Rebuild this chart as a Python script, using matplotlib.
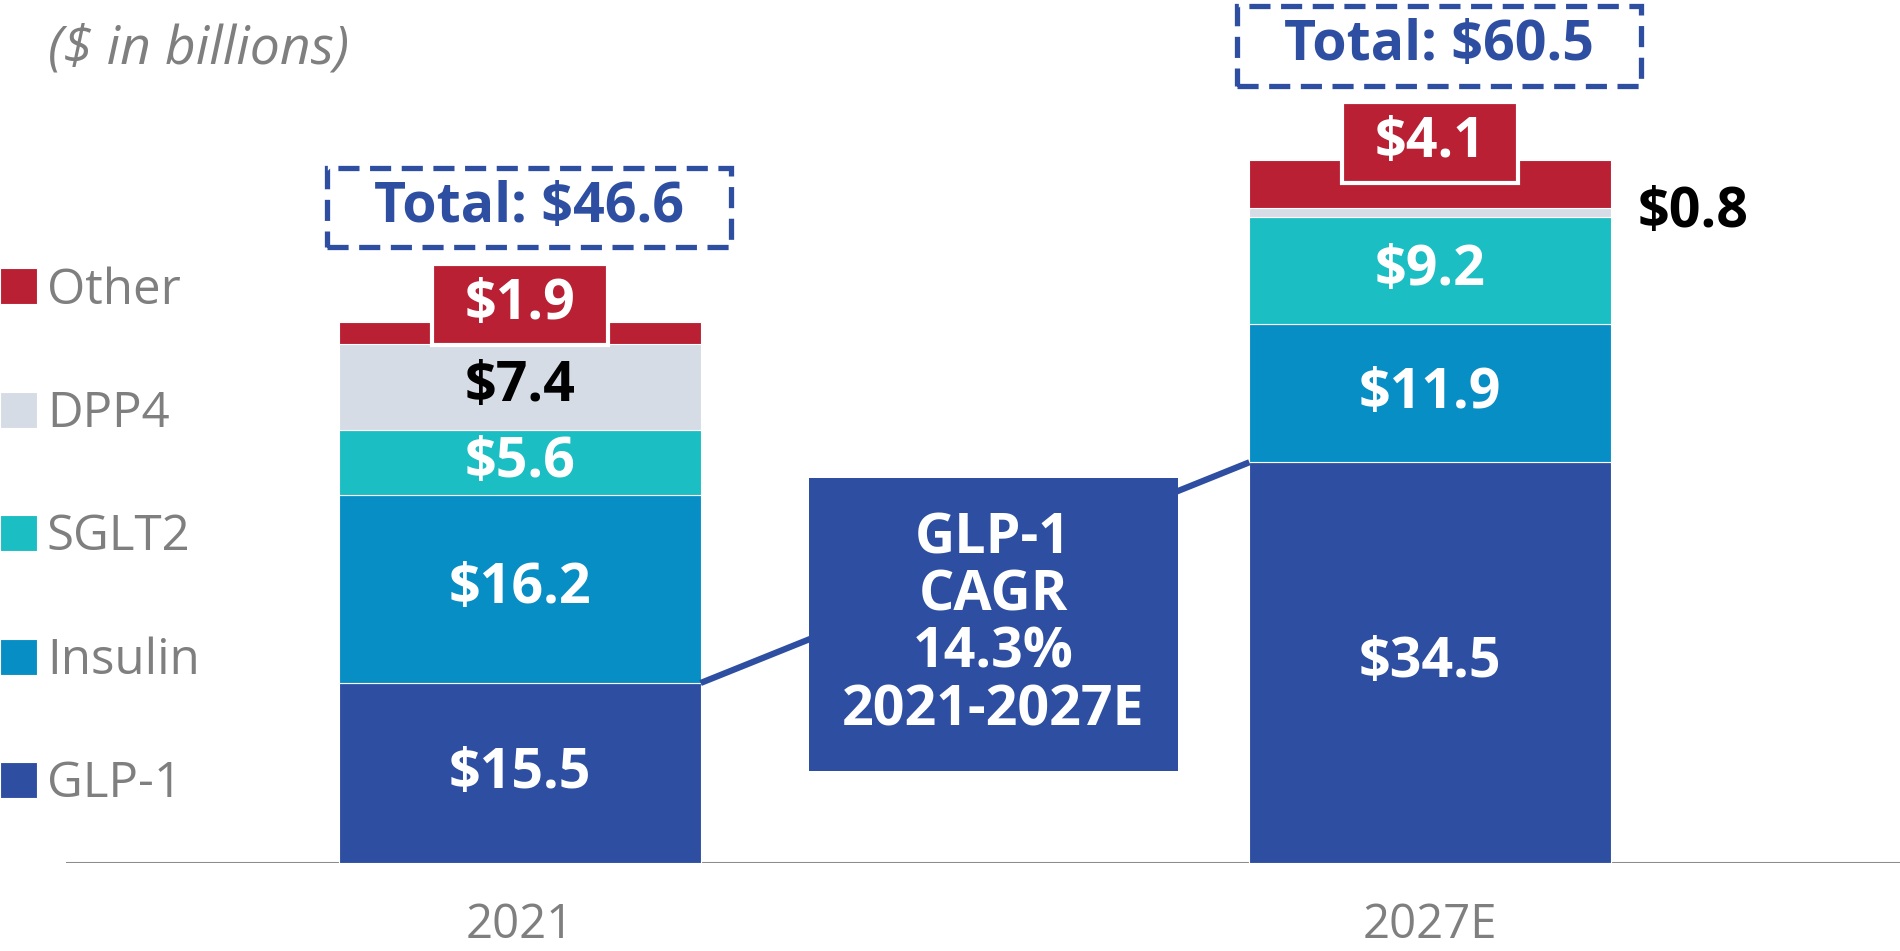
import numpy as np
import matplotlib
matplotlib.use("Agg")
import matplotlib.pyplot as plt
from matplotlib.path import Path

# ---- data ($ in billions)
categories = ["2021", "2027E"]
segments = ["GLP-1", "Insulin", "SGLT2", "DPP4", "Other"]
glp1 = [15.5, 34.5]
insulin = [16.2, 11.9]
sglt2 = [5.6, 9.2]
dpp4 = [7.4, 0.8]
other = [1.9, 4.1]
totals = [46.6, 60.5]
cagr_label = "GLP-1\nCAGR\n14.3%\n2021-2027E"

colors = {
    "GLP-1": "#2e4fa1",
    "Insulin": "#078ec4",
    "SGLT2": "#1bbec2",
    "DPP4": "#d6dce5",
    "Other": "#b92033",
}
BLUE = "#2e4fa1"
GRAY = "#7f7f7f"

plt.rcParams["font.family"] = ["Open Sans", "DejaVu Sans"]


def pad_box(px, py):
    # rectangular box with separate horizontal / vertical padding
    def box(x0, y0, width, height, mutation_size):
        dx, dy = px * mutation_size, py * mutation_size
        x0, y0 = x0 - dx, y0 - dy
        x1, y1 = x0 + width + 2 * dx, y0 + height + 2 * dy
        return Path([(x0, y0), (x1, y0), (x1, y1), (x0, y1), (x0, y0)],
                    [Path.MOVETO, Path.LINETO, Path.LINETO, Path.LINETO, Path.CLOSEPOLY])
    return box


fig = plt.figure(figsize=(19, 9.51), dpi=100)
ax = fig.add_axes([0, 0.0925, 1, 0.9075])

x = np.arange(len(categories))
width = 0.397
bottom = np.zeros(len(categories))
handles = []
for name, vals in zip(segments, [glp1, insulin, sglt2, dpp4, other]):
    vals = np.array(vals)
    b = ax.bar(x, vals, width, bottom=bottom, color=colors[name],
               edgecolor="white", linewidth=0.8, label=name, zorder=2)
    handles.append(b)
    tcolor = "black" if name == "DPP4" else "white"
    for xi, v, b0 in zip(x, vals, bottom):
        label = f"${v:.1f}"
        if name == "Other":
            # boxed label sitting on the top edge of the bar
            ax.text(xi, b0 + v + 1.5, label, ha="center", va="center", color="white",
                    fontsize=40, fontweight="bold", zorder=5,
                    bbox=dict(boxstyle=pad_box(0.58, 0.235), fc=colors[name],
                              ec="white", lw=3))
        elif v < 3:
            # too thin to hold the label
            ax.text(xi + width / 2 + 0.03, b0 + v / 2, label, ha="left", va="center",
                    color=tcolor, fontsize=40, fontweight="bold", zorder=5)
        else:
            ax.text(xi, b0 + v / 2, label, ha="center", va="center", color=tcolor,
                    fontsize=40, fontweight="bold", zorder=5)
    bottom += vals

# totals in dashed boxes
for xi, t in zip(x, totals):
    ax.text(xi + 0.01, t + 9.85, f"Total: ${t:.1f}", ha="center", va="center",
            color=BLUE, fontsize=40, fontweight="bold", zorder=5,
            bbox=dict(boxstyle=pad_box(0.85, 0.22), fc="white", ec=BLUE,
                      lw=3.8, linestyle=(0, (4, 2))))

# GLP-1 growth connector + CAGR callout
ax.plot([x[0] + width / 2, x[1] - width / 2], [glp1[0], glp1[1]],
        color=BLUE, lw=4.5, solid_capstyle="butt", zorder=3)
ax.text(0.52, 20.5, cagr_label, ha="center", va="center", multialignment="center",
        color="white", fontsize=40, fontweight="bold", linespacing=1.05, zorder=4,
        bbox=dict(boxstyle=pad_box(0.6, 0.6), fc=BLUE, ec="none"))

ax.set_xlim(-0.5714, 1.5165)
ax.set_ylim(0, 74.3)
ax.axhline(0, xmin=67 / 1900, xmax=1, color="#8c8c8c", lw=2.2, zorder=1)
for s in ax.spines.values():
    s.set_visible(False)
ax.set_yticks([])
ax.set_xticks(x, categories)
ax.tick_params(axis="x", length=0, pad=28, labelsize=34, labelcolor=GRAY)

ax.legend(handles[::-1], segments[::-1], loc="upper left",
          bbox_to_anchor=(0.0, 1 - 266 / 951), bbox_transform=fig.transFigure,
          frameon=False, fontsize=35.5, labelcolor=GRAY, handlelength=0.75,
          handleheight=0.75, handletextpad=0.2, labelspacing=1.5,
          borderpad=0, borderaxespad=0)

fig.text(48 / 1900, 1 - 50 / 951, "($ in billions)", ha="left", va="center",
         fontsize=38.5, style="italic", color=GRAY)

fig.savefig("out.png", dpi=100)
